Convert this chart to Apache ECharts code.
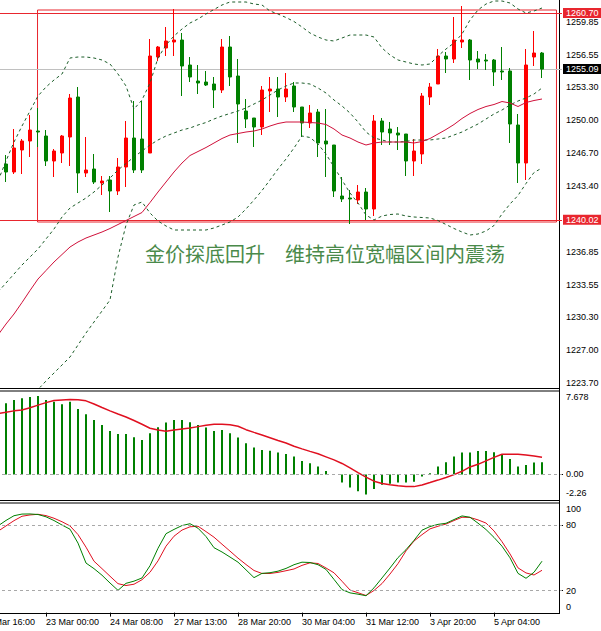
<!DOCTYPE html>
<html><head><meta charset="utf-8">
<script src="https://cdn.jsdelivr.net/npm/echarts@6/dist/echarts.min.js"></script>
<style>html,body{margin:0;padding:0;background:#fff;overflow:hidden}#c{width:601px;height:631px}</style>
</head><body><div id="c"></div>
<script>
// ---------- DATA ----------
// bar slots: 3 leading slots (first label bar, one empty, one partial candle), 68 full candles, 2 empty slots
const SLOTS = 73;
const timeTickBars = [0, 8, 16, 24, 32, 40, 48, 56, 64];
const timeTickLabels = ['21 Mar 16:00', '23 Mar 00:00', '24 Mar 08:00', '27 Mar 13:00', '28 Mar 20:00', '30 Mar 04:00', '31 Mar 12:00', '3 Apr 20:00', '5 Apr 04:00'];

// candles [open, close, low, high], starting with the partial candle at the left edge
const candles = [
  [1244.2,1245.5,1243.8,1246.0],
  [1245.6,1244.8,1243.8,1246.5],[1244.8,1247.2,1244.6,1249.1],[1247.0,1247.9,1244.6,1248.1],[1247.9,1249.0,1246.3,1250.5],
  [1248.9,1248.8,1247.3,1251.2],[1248.4,1245.9,1245.4,1249.0],[1245.9,1246.9,1244.3,1247.1],[1246.7,1248.4,1245.7,1248.5],
  [1248.3,1252.2,1245.4,1252.6],[1252.3,1244.7,1242.7,1253.3],[1244.7,1245.0,1244.3,1248.3],[1245.1,1243.8,1243.6,1246.6],
  [1243.7,1243.9,1242.5,1244.4],[1244.0,1242.9,1240.8,1244.4],[1242.9,1245.3,1242.5,1246.2],[1245.3,1248.2,1243.3,1249.9],
  [1248.2,1245.0,1244.7,1251.9],[1248.1,1245.0,1244.7,1251.9],[1246.7,1256.4,1246.7,1258.1],[1256.3,1257.3,1255.9,1257.4],
  [1257.2,1257.9,1256.4,1259.3],[1257.8,1258.0,1256.4,1261.1],[1258.0,1255.4,1252.4,1258.7],[1255.5,1254.3,1253.8,1256.3],
  [1253.9,1253.7,1252.6,1255.5],[1253.8,1253.5,1253.4,1254.9],[1253.6,1253.0,1251.2,1254.3],[1253.0,1257.3,1252.7,1258.1],
  [1257.3,1254.3,1253.4,1258.4],[1254.4,1251.6,1247.7,1256.1],[1250.9,1250.1,1249.2,1252.1],[1250.2,1249.3,1247.3,1250.2],
  [1249.3,1253.0,1248.5,1253.4],[1252.9,1253.1,1250.8,1254.3],[1253.1,1252.3,1250.3,1254.3],[1252.3,1253.1,1251.8,1254.7],
  [1253.4,1251.3,1250.8,1253.8],[1251.3,1249.7,1248.3,1251.3],[1249.7,1250.7,1249.2,1251.5],[1250.8,1247.7,1246.3,1251.1],
  [1247.9,1247.6,1244.3,1251.1],[1247.5,1242.9,1242.3,1247.5],[1242.4,1242.1,1241.8,1244.3],[1242.2,1242.1,1239.6,1243.0],
  [1242.0,1242.8,1241.6,1243.5],[1242.8,1241.1,1240.0,1243.2],[1241.1,1249.9,1240.4,1250.5],[1249.9,1248.8,1247.5,1250.2],
  [1249.1,1248.7,1247.5,1249.8],[1248.7,1248.5,1247.0,1249.3],[1248.6,1245.9,1244.4,1248.6],[1245.9,1246.9,1244.4,1248.1],
  [1246.6,1252.4,1245.6,1252.7],[1252.3,1253.3,1251.5,1253.7],[1253.6,1256.4,1253.6,1257.1],[1256.4,1256.1,1254.7,1256.8],
  [1256.1,1258.0,1255.7,1260.3],[1257.8,1258.0,1257.2,1261.4],[1258.0,1256.0,1254.0,1258.1],[1256.1,1255.8,1255.1,1256.9],
  [1256.0,1255.9,1255.0,1256.6],[1256.0,1254.8,1253.4,1256.1],[1254.9,1254.8,1254.0,1257.3],[1254.9,1249.6,1247.7,1255.2],
  [1249.5,1245.7,1243.7,1250.6],[1245.7,1255.5,1244.0,1257.1],[1256.3,1256.7,1255.4,1258.9],[1256.7,1255.09,1254.2,1256.8]
];

const bandUpper = [1243.9,1245.9,1247.8,1249.4,1250.9,1252.4,1253.3,1254.0,1254.6,1256.2,1256.3,1256.3,1256.2,1256.0,1255.6,1254.6,1253.4,1251.1,1252.0,1253.7,1256.2,1257.5,1258.4,1259.1,1259.7,1260.1,1260.6,1261.05,1261.5,1261.8,1261.8,1261.8,1261.6,1261.5,1260.9,1260.6,1260.25,1259.85,1259.3,1258.7,1258.3,1258.0,1257.9,1258.2,1258.5,1258.5,1258.5,1258.3,1257.2,1256.5,1256.0,1255.8,1255.6,1255.5,1255.6,1256.4,1257.1,1257.7,1258.6,1260.0,1261.0,1261.6,1261.9,1261.9,1261.7,1261.1,1260.7,1260.9,1261.2];
const bandMiddle = [1232.8,1233.7,1234.6,1235.5,1236.3,1237.1,1238.1,1239.1,1240.3,1241.2,1241.7,1242.2,1242.8,1243.5,1244.2,1245.0,1245.65,1246.3,1246.9,1247.5,1248.0,1248.4,1248.7,1249.0,1249.2,1249.5,1249.75,1250.1,1250.4,1250.65,1250.9,1251.2,1251.6,1252.0,1252.5,1253.0,1253.4,1253.7,1253.7,1253.6,1253.2,1252.7,1252.0,1251.4,1250.7,1249.8,1248.8,1248.2,1248.0,1247.8,1247.8,1247.85,1248.0,1248.0,1248.0,1248.1,1248.2,1248.5,1248.8,1249.2,1249.6,1250.1,1250.6,1251.0,1251.5,1251.9,1252.2,1252.6,1253.2];
const bandLower = [1218.1,1219.1,1220.1,1221.1,1222.1,1223.05,1223.9,1224.7,1225.5,1226.3,1227.5,1228.7,1229.8,1230.9,1232.0,1236.3,1239.5,1241.5,1241.8,1240.7,1239.9,1239.4,1239.0,1239.0,1239.0,1239.0,1239.0,1239.2,1239.5,1239.8,1240.3,1241.1,1242.0,1242.95,1244.0,1245.1,1246.1,1247.2,1248.4,1248.25,1247.6,1246.6,1245.3,1244.0,1242.7,1241.7,1240.5,1240.0,1240.4,1240.55,1240.6,1240.4,1240.3,1240.25,1240.2,1239.95,1239.55,1239.15,1238.8,1238.5,1238.6,1238.9,1239.45,1240.6,1241.6,1242.45,1243.65,1244.75,1245.2];
const maLine = [1228.5,1229.6,1230.6,1231.75,1232.95,1234.1,1234.95,1235.8,1236.55,1237.3,1237.8,1238.2,1238.5,1238.8,1239.15,1239.55,1239.95,1240.35,1240.75,1241.75,1242.8,1243.8,1244.8,1245.7,1246.45,1246.85,1247.25,1247.7,1248.15,1248.5,1248.65,1248.8,1248.9,1249.1,1249.4,1249.65,1249.8,1249.8,1249.8,1249.75,1249.7,1249.55,1249.1,1248.5,1248.2,1247.8,1247.5,1247.7,1247.8,1247.8,1247.8,1247.8,1247.7,1247.85,1248.15,1248.6,1249.05,1249.55,1250.15,1250.65,1251.05,1251.35,1251.55,1251.85,1251.7,1251.35,1251.75,1251.95,1252.1];

// MACD histogram (full candles only) and its signal line
const macdHist = [6.55,6.85,7.01,7.13,7.22,6.85,6.70,6.46,6.70,6.03,5.54,5.01,4.55,4.00,3.73,3.73,3.42,3.17,3.79,4.34,4.77,5.01,5.01,4.80,4.55,4.31,4.00,4.09,3.79,3.39,2.87,2.47,2.25,2.19,2.01,1.89,1.64,1.24,1.03,0.72,0.32,0.05,-0.75,-1.2,-1.55,-1.85,-1.35,-0.95,-0.85,-0.75,-0.75,-0.68,-0.2,0.11,0.72,1.12,1.64,2.01,2.01,2.16,2.16,2.04,1.89,1.43,0.72,0.87,1.09,1.12];
const macdSignal = [5.60,5.72,5.85,5.93,6.14,6.38,6.61,6.80,6.85,6.90,6.87,6.77,6.48,6.16,5.85,5.56,5.29,4.96,4.62,4.25,4.08,3.98,4.09,4.18,4.27,4.40,4.53,4.62,4.62,4.58,4.44,4.12,3.87,3.63,3.38,3.13,2.89,2.59,2.35,2.12,1.90,1.62,1.34,1.01,0.60,0.17,-0.25,-0.62,-0.83,-0.95,-1.03,-1.10,-1.12,-0.97,-0.75,-0.52,-0.28,-0.02,0.29,0.69,0.93,1.25,1.57,1.86,1.86,1.86,1.78,1.69,1.58];

// Stochastic
const stochMain = [79.1,84.1,88.4,89.9,90.0,89.5,87.4,84.0,79.9,76.1,63.4,45.2,40.1,34.1,27.0,20.3,26.7,28.7,31.6,42.8,58.7,72.0,75.9,79.4,81.1,77.0,69.4,59.2,55.3,50.7,46.0,39.0,31.9,35.8,36.4,37.8,40.3,43.7,46.0,45.7,43.7,39.4,30.3,21.0,18.0,16.8,15.4,22.6,31.6,40.7,50.2,57.4,65.9,75.2,78.5,80.5,81.5,84.9,88.2,87.0,81.6,75.8,68.6,60.6,50.0,35.8,31.3,36.8,46.9];
const stochSignal = [74.2,79.1,83.9,87.9,89.1,89.7,88.5,86.1,82.9,79.1,71.2,59.7,46.9,40.1,33.2,26.4,24.7,25.9,30.0,36.8,47.2,60.6,69.7,75.3,78.3,78.8,73.9,68.8,62.4,56.1,49.7,43.9,38.4,35.7,35.7,36.7,38.2,39.8,43.1,45.4,44.8,40.7,36.3,28.6,20.6,18.1,15.6,20.2,26.5,35.2,44.7,56.3,65.3,71.1,76.4,78.8,80.8,84.0,87.0,86.8,84.6,81.7,74.5,64.7,53.5,40.8,36.2,34.3,38.6];

// axis tick labels
const priceTicks = [1223.70,1227.00,1230.30,1233.55,1236.85,1243.40,1246.70,1250.00,1253.30,1256.55,1259.85];
const priceRange = [1223.3, 1262.0];
const macdRange = [-2.26, 7.678];
const macdTicks = [-2.26, 0, 7.678];
const stochTicks = [0, 20, 80, 100];
const stochLevels = [20, 80];
const macdLevels = [0];

// price marker lines
const levelLines = [1260.70, 1240.02];
const lastPrice = 1255.09;

// drawn rectangle (bar-slot units, price)
const boxSlots = [6.94, 71.81];
const boxPrices = [1239.8, 1261.0];

const headline = '金价探底回升\u3000维持高位宽幅区间内震荡';

// ---------- BUILD ----------
const cats = Array.from({length: SLOTS}, (_, k) => String(k));
function pad(arr, lead) {
  const out = [];
  for (let i = 0; i < lead; i++) out.push('-');
  arr.forEach(v => out.push(v));
  while (out.length < SLOTS) out.push('-');
  return out;
}
const labelOf = {};
timeTickBars.forEach((b, i) => { labelOf[b] = timeTickLabels[i]; });
const isTick = (i) => labelOf[i] !== undefined;

const FONT = "'Liberation Sans', Arial, sans-serif";
const UP = '#ff0000', DOWN = '#008000';
const BAND = '#1d5e2a';
const LINE_RED = '#e01020';
const BOX_RED = '#e8262e';

const near = (a, b) => Math.abs(a - b) < 1e-6;
const gridBase = {left: -22, width: 584, outerBoundsMode: 'none', containLabel: false};

const option = {
  animation: false,
  backgroundColor: '#ffffff',
  grid: [
    Object.assign({}, gridBase, {top: 0, height: 387}),
    Object.assign({}, gridBase, {top: 391, height: 108}),
    Object.assign({}, gridBase, {top: 503, height: 109.6})
  ],
  xAxis: [
    {type: 'category', gridIndex: 0, data: cats, boundaryGap: true, axisLine: {show: false}, axisTick: {show: false}, axisLabel: {show: false}, splitLine: {show: false}},
    {type: 'category', gridIndex: 1, data: cats, boundaryGap: true, axisLine: {show: false}, axisTick: {show: false}, axisLabel: {show: false}, splitLine: {show: false}},
    {type: 'category', gridIndex: 2, data: cats, boundaryGap: true, axisLine: {show: false},
     axisTick: {show: true, alignWithLabel: true, interval: (i) => isTick(i), length: 4, lineStyle: {color: '#000'}},
     axisLabel: {show: true, interval: (i) => isTick(i), formatter: (v) => labelOf[Number(v)] || '', align: 'left', margin: 5, fontSize: 9, color: '#000', fontFamily: FONT, hideOverlap: false},
     splitLine: {show: false}},
    {type: 'value', gridIndex: 0, position: 'top', min: -0.5, max: SLOTS - 0.5, show: false}
  ],
  yAxis: [
    {type: 'value', gridIndex: 0, position: 'right', offset: -3, min: priceRange[0], max: priceRange[1],
     axisLine: {show: false}, splitLine: {show: false},
     axisTick: {show: true, customValues: priceTicks, length: 4, lineStyle: {color: '#000'}},
     axisLabel: {show: true, customValues: priceTicks, formatter: (v) => Number(v).toFixed(2), margin: 7, fontSize: 9, color: '#000', fontFamily: FONT}},
    {type: 'value', gridIndex: 1, position: 'right', offset: -3, min: macdRange[0], max: macdRange[1],
     axisLine: {show: false}, splitLine: {show: false},
     axisTick: {show: true, customValues: [0], length: 4, lineStyle: {color: '#000'}},
     axisLabel: {show: true, customValues: macdTicks, margin: 7, fontSize: 9, color: '#000', fontFamily: FONT,
       formatter: (v) => near(v, macdRange[1]) ? '{t|' + macdRange[1].toFixed(3) + '}' : near(v, macdRange[0]) ? '{b|' + macdRange[0].toFixed(2) + '}' : Number(v).toFixed(2),
       rich: {t: {padding: [12, 0, 0, 0], fontSize: 9, color: '#000', fontFamily: FONT}, b: {padding: [0, 0, 12, 0], fontSize: 9, color: '#000', fontFamily: FONT}}}},
    {type: 'value', gridIndex: 2, position: 'right', offset: -3, min: 0, max: 100,
     axisLine: {show: false}, splitLine: {show: false},
     axisTick: {show: true, customValues: stochLevels, length: 4, lineStyle: {color: '#000'}},
     axisLabel: {show: true, customValues: stochTicks, margin: 7, fontSize: 9, color: '#000', fontFamily: FONT,
       formatter: (v) => near(v, 100) ? '{t|100}' : near(v, 0) ? '{b|0}' : String(v),
       rich: {t: {padding: [12, 0, 0, 0], fontSize: 9, color: '#000', fontFamily: FONT}, b: {padding: [0, 0, 12, 0], fontSize: 9, color: '#000', fontFamily: FONT}}}}
  ],
  series: [
    {type: 'line', xAxisIndex: 3, yAxisIndex: 0, silent: true, symbol: 'none', z: 1,
     data: [[boxSlots[0], boxPrices[1]], [boxSlots[1], boxPrices[1]], [boxSlots[1], boxPrices[0]], [boxSlots[0], boxPrices[0]], [boxSlots[0], boxPrices[1]]],
     lineStyle: {color: BOX_RED, width: 1}},
    {type: 'candlestick', xAxisIndex: 0, yAxisIndex: 0, data: pad(candles, 2), barWidth: 4, z: 3,
     itemStyle: {color: UP, color0: DOWN, borderColor: UP, borderColor0: DOWN, borderWidth: 1},
     markLine: {silent: true, symbol: 'none', animation: false, z: 2,
       data: levelLines.map(v => ({yAxis: v, lineStyle: {color: BOX_RED, width: 1, type: 'solid'},
               label: {show: true, position: 'end', distance: 1, formatter: v.toFixed(2), color: '#fff', backgroundColor: BOX_RED, padding: [1, 3, 0, 3], fontSize: 9, fontFamily: FONT}}))
         .concat([{yAxis: lastPrice, lineStyle: {color: '#c0c0c0', width: 1, type: 'solid'},
               label: {show: true, position: 'end', distance: 1, formatter: lastPrice.toFixed(2), color: '#fff', backgroundColor: '#000', padding: [1, 3, 0, 3], fontSize: 9, fontFamily: FONT}}])}},
    {type: 'line', xAxisIndex: 0, yAxisIndex: 0, data: pad(bandUpper, 2), symbol: 'none', silent: true, z: 4, lineStyle: {color: BAND, width: 1, type: [3, 3]}},
    {type: 'line', xAxisIndex: 0, yAxisIndex: 0, data: pad(bandMiddle, 2), symbol: 'none', silent: true, z: 4, lineStyle: {color: BAND, width: 1, type: [3, 3]}},
    {type: 'line', xAxisIndex: 0, yAxisIndex: 0, data: pad(bandLower, 2), symbol: 'none', silent: true, z: 4, lineStyle: {color: BAND, width: 1, type: [3, 3]}},
    {type: 'line', xAxisIndex: 0, yAxisIndex: 0, data: pad(maLine, 2), symbol: 'none', silent: true, z: 4, lineStyle: {color: '#d0103a', width: 1}},
    {type: 'bar', xAxisIndex: 1, yAxisIndex: 1, data: pad(macdHist, 3), barWidth: 2, silent: true, itemStyle: {color: '#008000'},
     markLine: {silent: true, symbol: 'none', label: {show: false}, lineStyle: {color: '#a8a8a8', width: 1, type: [3, 3]}, data: macdLevels.map(v => ({yAxis: v}))}},
    {type: 'line', xAxisIndex: 1, yAxisIndex: 1, data: pad(macdSignal, 2), symbol: 'none', silent: true, lineStyle: {color: LINE_RED, width: 1.5}},
    {type: 'line', xAxisIndex: 2, yAxisIndex: 2, data: pad(stochMain, 2), symbol: 'none', silent: true, z: 4, lineStyle: {color: '#008000', width: 1},
     markLine: {silent: true, symbol: 'none', label: {show: false}, lineStyle: {color: '#a8a8a8', width: 1, type: [3, 3]}, data: stochLevels.map(v => ({yAxis: v}))}},
    {type: 'line', xAxisIndex: 2, yAxisIndex: 2, data: pad(stochSignal, 2), symbol: 'none', silent: true, z: 3, lineStyle: {color: LINE_RED, width: 1}}
  ],
  graphic: [
    {type: 'text', left: 145, top: 243, silent: true, z: 10,
     style: {text: headline, fill: '#4a8a4a', fontSize: 20, fontFamily: "'Noto Sans CJK SC', sans-serif"}},
    {type: 'line', silent: true, shape: {x1: 559.5, y1: 0, x2: 559.5, y2: 614}, style: {stroke: '#000', lineWidth: 1}},
    {type: 'line', silent: true, shape: {x1: 0, y1: 388.5, x2: 560, y2: 388.5}, style: {stroke: '#000', lineWidth: 1}},
    {type: 'line', silent: true, shape: {x1: 0, y1: 391, x2: 560, y2: 391}, style: {stroke: '#000', lineWidth: 1}},
    {type: 'line', silent: true, shape: {x1: 0, y1: 500.5, x2: 560, y2: 500.5}, style: {stroke: '#000', lineWidth: 1}},
    {type: 'line', silent: true, shape: {x1: 0, y1: 503, x2: 560, y2: 503}, style: {stroke: '#000', lineWidth: 1}},
    {type: 'line', silent: true, shape: {x1: 0, y1: 613.5, x2: 560, y2: 613.5}, style: {stroke: '#000', lineWidth: 1}}
  ]
};
const chart = echarts.init(document.getElementById('c'), null, {renderer: 'svg', width: 601, height: 631});
chart.setOption(option);
</script></body></html>
